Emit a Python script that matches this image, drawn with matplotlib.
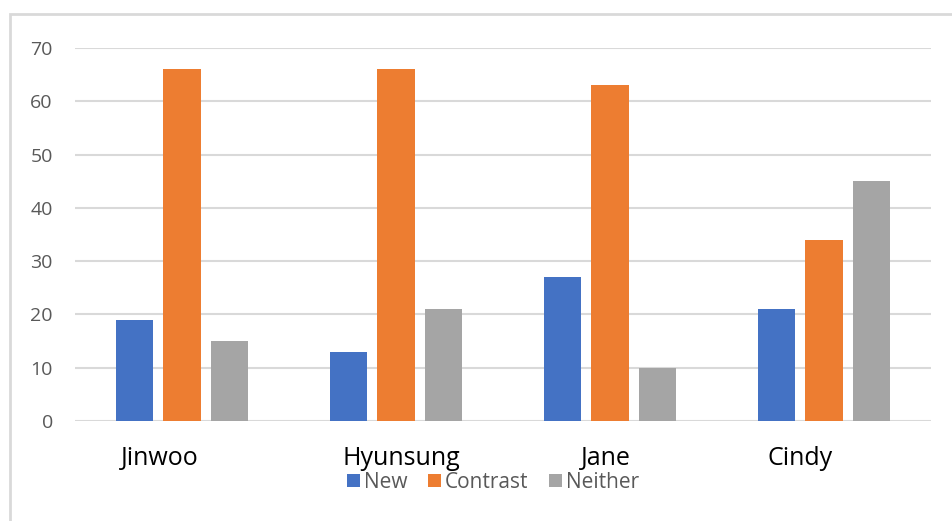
import numpy as np
import matplotlib
matplotlib.use("Agg")
import matplotlib.pyplot as plt
from matplotlib.patches import Rectangle

plt.rcParams['font.family'] = ['Open Sans', 'DejaVu Sans']

# scores per speaker
speakers = ['Jinwoo', 'Hyunsung', 'Jane', 'Cindy']
new = [19, 13, 27, 21]
contrast = [66, 66, 63, 34]
neither = [15, 21, 10, 45]

series = [('New', new, '#4472C4'),
          ('Contrast', contrast, '#ED7D31'),
          ('Neither', neither, '#A5A5A5')]

fig = plt.figure(figsize=(9.53, 5.21), dpi=100)
ax = fig.add_axes([75 / 953, 1 - 421 / 521, 856 / 953, 373 / 521])

x = np.arange(len(speakers))
width = 0.173
step = 0.22
for k, (name, vals, color) in enumerate(series):
    ax.bar(x + (k - 1) * step, vals, width, color=color, label=name, zorder=3)

ax.set_xlim(-0.5, len(speakers) - 0.5)
ax.set_ylim(0, 70)
ax.set_yticks(range(0, 71, 10))
ax.yaxis.grid(True, color='#d9d9d9', linewidth=1.5, zorder=0)
ax.set_axisbelow(True)
for side in ['top', 'right', 'left', 'bottom']:
    ax.spines[side].set_visible(False)
ax.tick_params(axis='y', length=0, pad=16, labelsize=14, labelcolor='#595959')
ax.set_xticks(x)
ax.set_xticklabels([])
ax.tick_params(axis='x', length=0)

# category names sit a little off the group centres
label_shift = [-0.105, 0.023, -0.02, -0.112]
for i, name in enumerate(speakers):
    ax.text(i + label_shift[i], -7.0, name, ha='center', va='center',
            fontsize=18, color='black')

fig.legend(loc='center', bbox_to_anchor=(493 / 953, 39 / 521), ncol=3,
           frameon=False, fontsize=15, handlelength=0.6, handleheight=0.6,
           handletextpad=0.2, columnspacing=1.0, labelcolor='#595959')

# thin frame around the chart area
fig.add_artist(Rectangle((10 / 953, -0.05), 1.2, 1 - 14 / 521 + 0.05,
                         transform=fig.transFigure, fill=False,
                         edgecolor='#d9d9d9', linewidth=2, clip_on=False))

fig.savefig('out.png', dpi=100, facecolor='white')
